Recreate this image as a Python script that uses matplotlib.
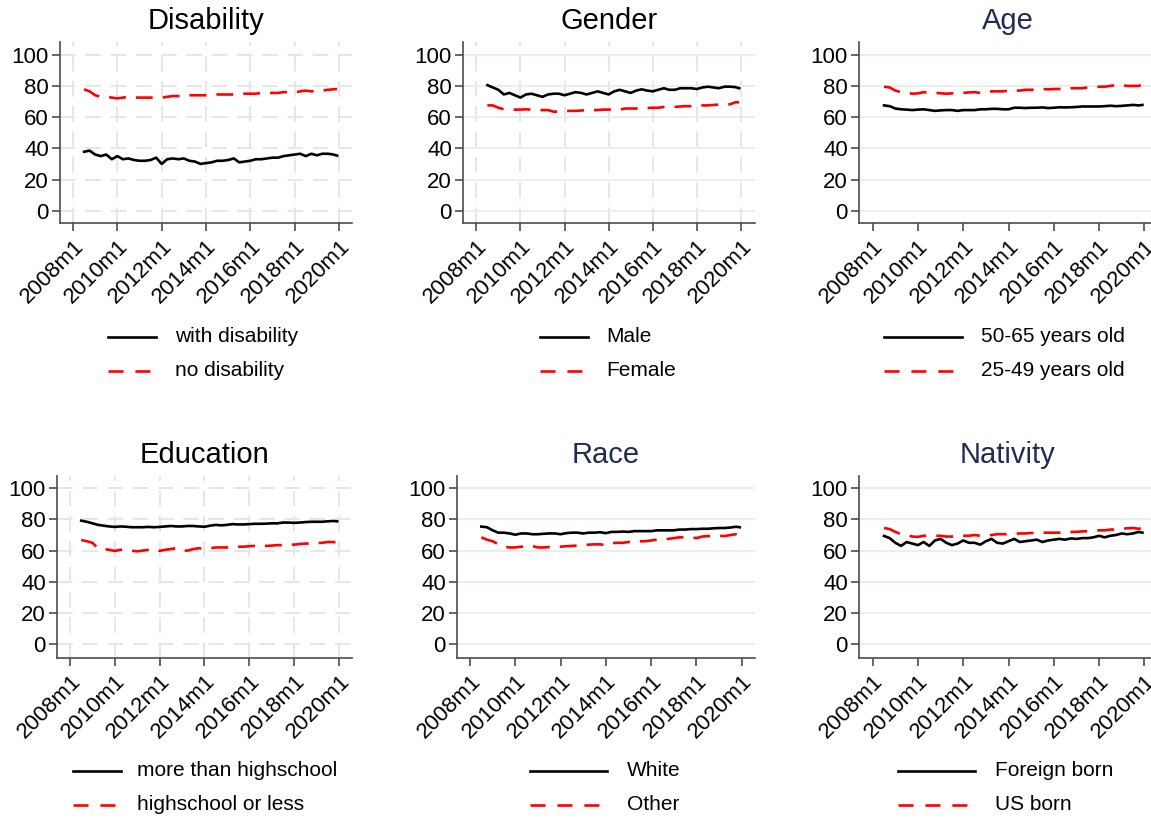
import matplotlib
matplotlib.use("Agg")
import matplotlib.pyplot as plt
from matplotlib.lines import Line2D

plt.rcParams["font.family"] = ["Liberation Sans", "DejaVu Sans"]

# Observation months, counted from 2008m1 (quarterly readings, last one 2019m12)
months = list(range(6, 142, 3)) + [143]

tick_months = [0, 24, 48, 72, 96, 120, 144]
tick_labels = ["2008m1", "2010m1", "2012m1", "2014m1", "2016m1", "2018m1", "2020m1"]
y_ticks = [0, 20, 40, 60, 80, 100]

with_disability = [37.8, 38.5,
                   36, 35, 36, 33,
                   35, 33, 33.5, 32.5,
                   32, 32, 32.5, 34,
                   30, 33, 33.5, 33,
                   33.5, 32, 31.5, 30,
                   30.5, 31, 32, 32,
                   32.5, 33.5, 31, 31.5,
                   32, 33, 33, 33.5,
                   34, 34, 35, 35.5,
                   36, 36.5, 35, 36.5,
                   35.5, 36.5, 36.5, 36,
                   35.3]
no_disability = [77.8, 76.5,
                 74, 73, 73, 72.5,
                 72, 72.5, 73, 72.5,
                 72.5, 72.5, 72.5, 72.5,
                 72.5, 73, 73.5, 73.5,
                 73.5, 74, 74, 74,
                 74, 74, 74.5, 74.5,
                 74.5, 74.5, 75, 75,
                 75, 75, 75.5, 75.5,
                 75.5, 75.5, 76, 76,
                 75.8, 76.5, 77, 76.5,
                 76.8, 77, 77.5, 77.8,
                 78]

male = [80.5, 79,
        77.5, 74.5, 75.5, 74,
        72.5, 74.5, 75, 74,
        73, 74.5, 75, 75,
        74, 75, 76, 75.5,
        74.5, 75.5, 76.5, 75.5,
        74.5, 76.5, 77.5, 76.5,
        75.5, 77, 77.8, 77,
        76.5, 77.5, 78.5, 77.5,
        77.5, 78.5, 78.5, 78.5,
        78, 79, 79.5, 79,
        78.5, 79.5, 79.5, 79.2,
        78.5]
female = [67.5, 67.5,
          66, 65, 65, 64.8,
          64.8, 65, 64.8, 64.5,
          64.5, 64.5, 63.5, 63.5,
          63.8, 64, 64, 64.2,
          64.5, 64.5, 64.5, 64.8,
          64.8, 64.8, 64.8, 65.5,
          65.5, 65.5, 65.5, 65.8,
          66, 66, 66.5, 66.5,
          66.5, 66.8, 67, 67,
          67, 67.5, 67.5, 67.8,
          68, 68, 68.2, 69.5,
          69.5]

age_50_65 = [67.5, 67,
             65.5, 65, 64.8, 64.5,
             64.8, 65, 64.5, 64,
             64.3, 64.5, 64.5, 64,
             64.5, 64.5, 64.5, 65,
             65, 65.3, 65.3, 65,
             65, 66, 66, 65.8,
             66, 66, 66.2, 65.8,
             66, 66.3, 66.2, 66.3,
             66.5, 66.8, 66.8, 66.8,
             66.8, 67, 67.3, 67,
             67.2, 67.5, 67.8, 67.5,
             67.8]
age_25_49 = [79.5, 79,
             77, 76, 75.5, 75,
             75.2, 76, 75.5, 75.5,
             75.3, 75, 75.2, 75.5,
             75.5, 75.8, 76, 75.5,
             75.5, 76.5, 76.5, 76.5,
             77, 77, 77, 77.5,
             77.5, 77.5, 78, 77.8,
             78, 78, 78, 78.5,
             78.5, 78.5, 79, 79,
             79.5, 79.5, 80, 80.5,
             80.5, 80, 80, 80,
             81]

more_than_hs = [79.2, 78.5,
                77.5, 76.5, 76, 75.5,
                75.2, 75.5, 75.3, 75,
                75, 75, 75.2, 75,
                75.2, 75.5, 75.8, 75.5,
                75.5, 75.8, 75.8, 75.5,
                75.3, 76, 76.5, 76.2,
                76.5, 77, 76.8, 76.8,
                77, 77.2, 77.2, 77.3,
                77.5, 77.5, 78, 78,
                77.8, 78, 78.3, 78.5,
                78.5, 78.5, 78.8, 79,
                78.8]
hs_or_less = [66.8, 66,
              65, 61.5, 61, 60.5,
              59.8, 60.5, 60.5, 60,
              59.5, 60, 60.5, 61,
              59.8, 60.5, 61, 61.5,
              60, 60, 61, 61.5,
              61, 61.5, 62, 62,
              62, 62.5, 62.5, 62.5,
              62.8, 63, 63.2, 63,
              63.2, 63.5, 63.5, 63.8,
              63.8, 64.2, 64.5, 64.5,
              64.8, 65, 65.5, 65.5,
              64.8]

white = [75.4, 75,
         73, 71.5, 71.5, 71,
         70.2, 71, 71, 70.5,
         70.5, 70.8, 71, 71,
         70.5, 71.2, 71.5, 71.5,
         71, 71.5, 71.5, 71.8,
         71.2, 72, 72, 72.2,
         72, 72.5, 72.5, 72.5,
         72.5, 73, 73, 73,
         73, 73.5, 73.5, 73.8,
         73.8, 74, 74, 74.3,
         74.5, 74.5, 74.8, 75.3,
         75]
other = [68.5, 67,
         66, 64, 62.5, 62,
         62, 62.5, 62.5, 63,
         62, 62, 62.3, 62.5,
         62.5, 62.8, 63, 63.2,
         63.5, 63.8, 64, 64,
         63.5, 64.8, 65, 65,
         65.5, 66, 66, 66,
         66.5, 67, 67.3, 67.5,
         68, 68.5, 68.5, 68.5,
         68, 69, 69.3, 69.5,
         69.5, 69.3, 70, 70.5,
         69.5]

foreign_born = [69.4, 68,
                65, 63, 65.5, 64.5,
                63.5, 65.5, 63, 66.5,
                67.5, 65, 63.5, 64.5,
                66.5, 65, 65, 63.8,
                66, 67.5, 65, 64.5,
                66, 67.5, 65.5, 66,
                66.5, 67, 65.5, 66.5,
                67, 67.5, 67, 67.8,
                67.5, 68, 68, 68.5,
                69.5, 68.5, 69.5, 70,
                71, 70.5, 71, 72,
                71.5]
us_born = [74.5, 73.8,
           72, 70.5, 70, 69,
           68.8, 69.5, 69.5, 69.5,
           69.5, 69, 69, 69.5,
           69.5, 69.5, 70, 69.5,
           69.5, 70, 70.5, 70.5,
           70.5, 70.8, 71, 71,
           71.3, 71.2, 71.5, 71.5,
           71.5, 71.5, 72, 72,
           72, 72.3, 72.5, 72.8,
           73, 73, 73.5, 73.5,
           74, 74.3, 74.5, 74,
           74.5]

W, H = 1151, 819
NAVY = "#202c55"
GRID_GRAY = "#e6e6e6"
GRID_BLUE = "#e7eff1"
SPINE = "#4d4d4d"

panels = [
    dict(title="Disability", tcolor="black", grid="both_dashed",
         series=[(with_disability, "with disability"), (no_disability, "no disability")],
         box=(60, 41.7, 352, 223.3), xt=(73, 339), yt=(210.7, 54.7),
         leg=(108, 156, 175, 337, 371)),
    dict(title="Gender", tcolor="black", grid="gender",
         series=[(male, "Male"), (female, "Female")],
         box=(463, 41.7, 755, 223.3), xt=(476.3, 741), yt=(210.7, 54.7),
         leg=(540, 588, 606, 337, 371)),
    dict(title="Age", tcolor=NAVY, grid="h_solid",
         series=[(age_50_65, "50-65 years old"), (age_25_49, "25-49 years old")],
         box=(859, 41.7, 1157, 223.3), xt=(872.7, 1144.3), yt=(210.7, 54.7),
         leg=(884, 962, 981, 337, 371)),
    dict(title="Education", tcolor="black", grid="both_dashed",
         series=[(more_than_hs, "more than highschool"), (hs_or_less, "highschool or less")],
         box=(57, 475.7, 352, 658.3), xt=(70, 339), yt=(644, 488.3),
         leg=(73, 121, 137, 771, 805)),
    dict(title="Race", tcolor=NAVY, grid="h_solid",
         series=[(white, "White"), (other, "Other")],
         box=(457, 475.7, 755, 658.3), xt=(470, 741.7), yt=(644, 488.3),
         leg=(530, 607, 627, 771, 805)),
    dict(title="Nativity", tcolor=NAVY, grid="h_solid",
         series=[(foreign_born, "Foreign born"), (us_born, "US born")],
         box=(859, 475.7, 1157, 658.3), xt=(872.7, 1144.3), yt=(644, 488.3),
         leg=(898, 975, 995, 771, 805)),
]

fig = plt.figure(figsize=(W / 100, H / 100), dpi=100)
fig.patch.set_facecolor("white")

LW = 1.9
DASH = (6.4, 3.8)


def fx(px):
    return px / W


def fy(py):
    return 1 - py / H


for p in panels:
    left, top, right, bottom = p["box"]
    ax = fig.add_axes([fx(left), fy(bottom), (right - left) / W, (bottom - top) / H])

    # map the tick pixel positions onto data limits
    t0, t1 = p["xt"]
    ppm = (t1 - t0) / 144.0
    ax.set_xlim((left - t0) / ppm, (right - t0) / ppm)
    y0, y100 = p["yt"]
    ppu = (y0 - y100) / 100.0
    ax.set_ylim((y0 - bottom) / ppu, (y0 - top) / ppu)

    (s1, l1), (s2, l2) = p["series"]
    ax.plot(months, s1, color="black", lw=LW, zorder=3, solid_joinstyle="round")
    ax.plot(months, s2, color="red", lw=LW, dashes=DASH, zorder=3)

    ax.set_xticks(tick_months)
    ax.set_xticklabels(tick_labels, rotation=45, ha="right", rotation_mode="anchor")
    ax.set_yticks(y_ticks)
    ax.tick_params(axis="both", labelsize=16, colors=SPINE, labelcolor="black",
                   length=6, width=1.2, direction="out")
    ax.tick_params(axis="y", pad=2)
    ax.tick_params(axis="x", pad=3)

    for side in ("top", "right"):
        ax.spines[side].set_visible(False)
    for side in ("left", "bottom"):
        ax.spines[side].set_color(SPINE)
        ax.spines[side].set_linewidth(1.2)

    g = p["grid"]
    if g == "both_dashed":
        ax.grid(True, axis="both", color=GRID_GRAY, lw=1.4, dashes=(8, 5), zorder=0)
    elif g == "gender":
        ax.grid(True, axis="x", color=GRID_GRAY, lw=1.4, dashes=(8, 5), zorder=0)
        ax.grid(True, axis="y", color=GRID_BLUE, lw=1.4, zorder=0)
    else:
        ax.grid(True, axis="y", color=GRID_BLUE, lw=1.4, zorder=0)
    ax.set_axisbelow(True)

    ax.set_title(p["title"], fontsize=21, color=p["tcolor"], pad=9)

    # legend block below the panel
    lx0, lx1, tx, ry1, ry2 = p["leg"]
    fig.add_artist(Line2D([fx(lx0), fx(lx1)], [fy(ry1), fy(ry1)], color="black", lw=LW,
                          transform=fig.transFigure))
    fig.add_artist(Line2D([fx(lx0), fx(lx1)], [fy(ry2), fy(ry2)], color="red", lw=LW,
                          dashes=(5.7, 4.5), transform=fig.transFigure))
    fig.text(fx(tx), fy(ry1), l1, fontsize=15, va="center", ha="left")
    fig.text(fx(tx), fy(ry2), l2, fontsize=15, va="center", ha="left")

fig.savefig("out.png", dpi=100, facecolor="white")
